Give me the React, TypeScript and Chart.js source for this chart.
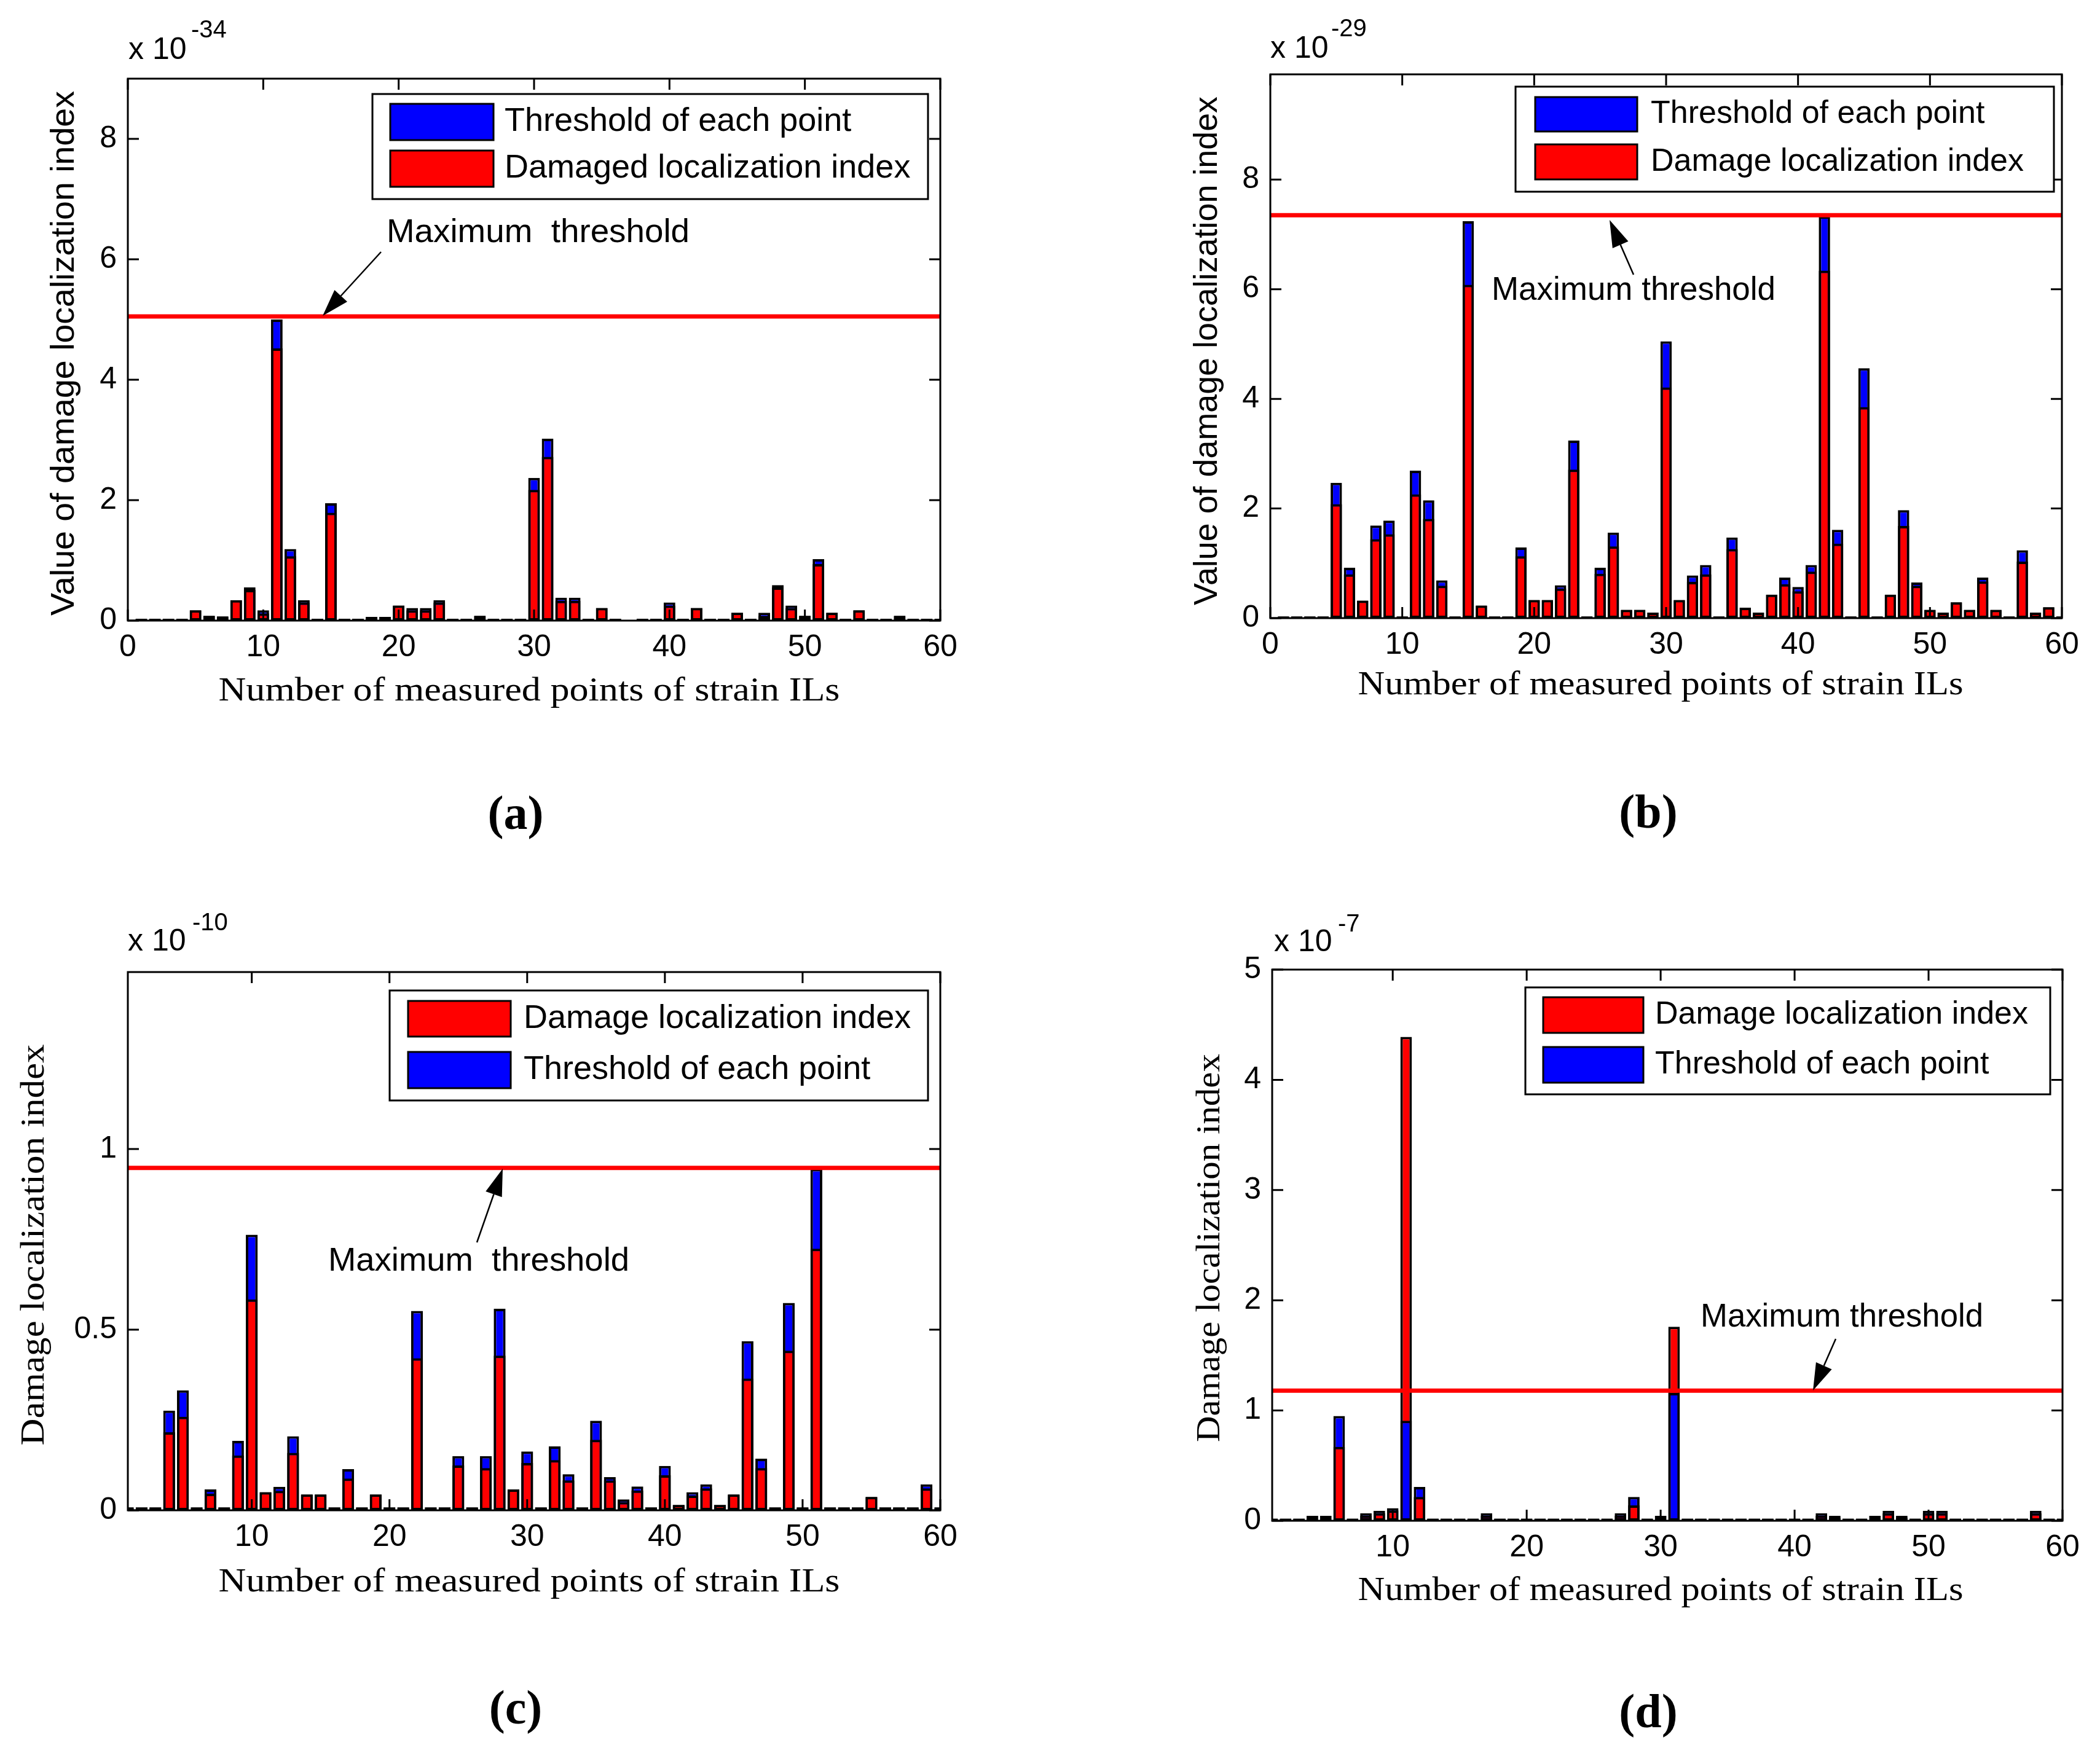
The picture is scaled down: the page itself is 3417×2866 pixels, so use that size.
import { useEffect, useRef } from "react"
import { Chart, registerables } from "chart.js"
import type { ChartConfiguration, Plugin } from "chart.js"

Chart.register(...registerables)

const RED = "#ff0000"
const BLUE = "#0000ff"
const SANS = '"Liberation Sans", Arial, sans-serif'
const SERIF = '"Liberation Serif", "Times New Roman", serif'

// measured points of strain ILs
const points = [
  1, 2, 3, 4, 5, 6, 7, 8, 9, 10, 11, 12, 13, 14, 15, 16, 17, 18, 19, 20,
  21, 22, 23, 24, 25, 26, 27, 28, 29, 30, 31, 32, 33, 34, 35, 36, 37, 38, 39, 40,
  41, 42, 43, 44, 45, 46, 47, 48, 49, 50, 51, 52, 53, 54, 55, 56, 57, 58, 59, 60,
]

const xTicksFrom0 = [0, 10, 20, 30, 40, 50, 60]
const xTicksFrom10 = [10, 20, 30, 40, 50, 60]
const yTicksA = [0, 2, 4, 6, 8]
const yTicksB = [0, 2, 4, 6, 8]
const yTicksC = [0, 0.5, 1]
const yTicksD = [0, 1, 2, 3, 4, 5]

// (a) x 10^-34
const thresholdA = [
  0.03, 0.03, 0.03, 0.03, 0.17, 0.08, 0.07, 0.34, 0.55, 0.17,
  5.0, 1.19, 0.34, 0.03, 1.95, 0.03, 0.03, 0.06, 0.06, 0.25,
  0.21, 0.21, 0.34, 0.03, 0.03, 0.08, 0.03, 0.03, 0.03, 2.37,
  3.02, 0.38, 0.38, 0.03, 0.21, 0.03, 0.01, 0.03, 0.03, 0.3,
  0.03, 0.21, 0.03, 0.03, 0.13, 0.03, 0.13, 0.59, 0.25, 0.08,
  1.02, 0.13, 0.03, 0.17, 0.03, 0.03, 0.08, 0.03, 0.03, 0.03,
]
const damageA = [
  0.03, 0.03, 0.03, 0.03, 0.17, 0.08, 0.07, 0.34, 0.51, 0.12,
  4.52, 1.07, 0.3, 0.03, 1.79, 0.03, 0.03, 0.06, 0.06, 0.25,
  0.17, 0.17, 0.3, 0.03, 0.03, 0.08, 0.03, 0.03, 0.03, 2.17,
  2.72, 0.33, 0.33, 0.03, 0.21, 0.03, 0.01, 0.03, 0.03, 0.25,
  0.03, 0.21, 0.03, 0.03, 0.13, 0.03, 0.08, 0.55, 0.21, 0.08,
  0.94, 0.13, 0.03, 0.17, 0.03, 0.03, 0.08, 0.03, 0.03, 0.03,
]
const maxThresholdA = 5.05

// (b) x 10^-29
const thresholdB = [
  0.03, 0.03, 0.03, 0.03, 2.47, 0.92, 0.32, 1.69, 1.78, 0.03,
  2.69, 2.15, 0.69, 0.03, 7.24, 0.23, 0.03, 0.03, 1.29, 0.33,
  0.33, 0.6, 3.24, 0.03, 0.92, 1.56, 0.15, 0.15, 0.1, 5.05,
  0.33, 0.78, 0.97, 0.03, 1.47, 0.19, 0.1, 0.43, 0.74, 0.57,
  0.97, 7.33, 1.61, 0.03, 4.56, 0.03, 0.43, 1.97, 0.65, 0.15,
  0.1, 0.29, 0.15, 0.74, 0.15, 0.03, 1.24, 0.1, 0.2, 0.03,
]
const damageB = [
  0.03, 0.03, 0.03, 0.03, 2.08, 0.8, 0.32, 1.44, 1.53, 0.03,
  2.26, 1.81, 0.59, 0.03, 6.08, 0.23, 0.03, 0.03, 1.13, 0.33,
  0.33, 0.54, 2.71, 0.03, 0.81, 1.31, 0.15, 0.15, 0.1, 4.21,
  0.33, 0.66, 0.8, 0.03, 1.26, 0.19, 0.1, 0.43, 0.62, 0.49,
  0.85, 6.34, 1.36, 0.03, 3.85, 0.03, 0.43, 1.68, 0.59, 0.15,
  0.1, 0.29, 0.15, 0.67, 0.15, 0.03, 1.03, 0.1, 0.2, 0.03,
]
const maxThresholdB = 7.35

// (c) x 10^-10
const damageC = [
  0.008, 0.008, 0.008, 0.216, 0.259, 0.008, 0.046, 0.008, 0.152, 0.584,
  0.05, 0.054, 0.159, 0.044, 0.044, 0.008, 0.088, 0.008, 0.044, 0.008,
  0.008, 0.421, 0.008, 0.008, 0.124, 0.008, 0.117, 0.428, 0.058, 0.131,
  0.008, 0.139, 0.083, 0.008, 0.195, 0.083, 0.023, 0.055, 0.008, 0.097,
  0.015, 0.041, 0.061, 0.015, 0.044, 0.365, 0.117, 0.008, 0.442, 0.008,
  0.724, 0.008, 0.008, 0.008, 0.037, 0.008, 0.008, 0.008, 0.061, 0.008,
]
const thresholdC = [
  0.008, 0.008, 0.008, 0.276, 0.332, 0.008, 0.058, 0.008, 0.192, 0.763,
  0.05, 0.065, 0.205, 0.044, 0.044, 0.008, 0.114, 0.008, 0.044, 0.008,
  0.008, 0.552, 0.008, 0.008, 0.15, 0.008, 0.15, 0.558, 0.058, 0.163,
  0.008, 0.177, 0.1, 0.008, 0.248, 0.092, 0.03, 0.066, 0.008, 0.123,
  0.015, 0.05, 0.072, 0.015, 0.044, 0.468, 0.143, 0.008, 0.574, 0.008,
  0.945, 0.008, 0.008, 0.008, 0.037, 0.008, 0.008, 0.008, 0.072, 0.008,
]
const maxThresholdC = 0.948

// (d) x 10^-7
const damageD = [
  0.02, 0.02, 0.02, 0.045, 0.045, 0.67, 0.02, 0.046, 0.068, 0.093,
  4.39, 0.216, 0.02, 0.02, 0.02, 0.02, 0.046, 0.02, 0.02, 0.02,
  0.02, 0.02, 0.02, 0.02, 0.02, 0.02, 0.046, 0.14, 0.02, 0.045,
  1.76, 0.02, 0.02, 0.02, 0.02, 0.02, 0.02, 0.02, 0.02, 0.02,
  0.02, 0.046, 0.03, 0.02, 0.02, 0.045, 0.068, 0.03, 0.02, 0.068,
  0.068, 0.02, 0.02, 0.02, 0.02, 0.02, 0.02, 0.068, 0.02, 0.02,
]
const thresholdD = [
  0.02, 0.02, 0.02, 0.045, 0.045, 0.95, 0.02, 0.068, 0.091, 0.114,
  0.907, 0.307, 0.02, 0.02, 0.02, 0.02, 0.068, 0.02, 0.02, 0.02,
  0.02, 0.02, 0.02, 0.02, 0.02, 0.02, 0.068, 0.216, 0.02, 0.045,
  1.16, 0.02, 0.02, 0.02, 0.02, 0.02, 0.02, 0.02, 0.02, 0.02,
  0.02, 0.068, 0.045, 0.02, 0.02, 0.045, 0.091, 0.045, 0.02, 0.091,
  0.091, 0.02, 0.02, 0.02, 0.02, 0.02, 0.02, 0.091, 0.02, 0.02,
]
const maxThresholdD = 1.18

const Y_W = 150
const X_H = 100
const TICK = 18

type Panel = {
  tag: string
  ox: number
  oy: number
  w: number
  h: number
  plot: [number, number, number, number]
  xMin: number
  xMax: number
  yMax: number
  xTicks: number[]
  yTicks: number[]
  damage: number[]
  threshold: number[]
  maxThreshold: number
  damageLabel: string
  thresholdLabel: string
  thresholdFirst: boolean
  legendBox: [number, number, number, number]
  swatchX: [number, number]
  rows: [number, number][]
  textX: number
  legendFont: number
  exponent: string
  expX: number
  expY: number
  supX: number
  supY: number
  note: string
  noteX: number
  noteY: number
  noteW: number
  arrow: [number, number, number, number]
  yTitle: string
  yTitleFamily: string
  yTitleX: number
  yTitleY: number
  yTitleLen: number
  xTitleX: number
  xTitleY: number
  xTitleLen: number
  tagX: number
  tagY: number
}

const X_TITLE = "Number of measured points of strain ILs"

const panels: Panel[] = [
  {
    tag: "(a)", ox: 0, oy: 0, w: 1708, h: 1433,
    plot: [208, 128, 1530, 1010],
    xMin: 0, xMax: 60, yMax: 9, xTicks: xTicksFrom0, yTicks: yTicksA,
    damage: damageA, threshold: thresholdA, maxThreshold: maxThresholdA,
    damageLabel: "Damaged localization index", thresholdLabel: "Threshold of each point", thresholdFirst: true,
    legendBox: [606, 153, 1510, 324], swatchX: [635, 803], rows: [[169, 228], [245, 304]], textX: 821, legendFont: 54,
    exponent: "-34", expX: 209, expY: 82, supX: 311, supY: 50,
    note: "Maximum  threshold", noteX: 629, noteY: 379, noteW: 493, arrow: [620, 410, 525, 514],
    yTitle: "Value of damage localization index", yTitleFamily: SANS, yTitleX: 105, yTitleY: 575, yTitleLen: 854,
    xTitleX: 861, xTitleY: 1126, xTitleLen: 1011,
    tagX: 839, tagY: 1329,
  },
  {
    tag: "(b)", ox: 1708, oy: 0, w: 1709, h: 1433,
    plot: [2067, 121, 3355, 1006],
    xMin: 0, xMax: 60, yMax: 9.92, xTicks: xTicksFrom0, yTicks: yTicksB,
    damage: damageB, threshold: thresholdB, maxThreshold: maxThresholdB,
    damageLabel: "Damage localization index", thresholdLabel: "Threshold of each point", thresholdFirst: true,
    legendBox: [2466, 141, 3342, 312], swatchX: [2498, 2664], rows: [[158, 214], [235, 292]], textX: 2686, legendFont: 52,
    exponent: "-29", expX: 2067, expY: 80, supX: 2166, supY: 48,
    note: "Maximum threshold", noteX: 2427, noteY: 473, noteW: 462, arrow: [2658, 447, 2619, 358],
    yTitle: "Value of damage localization index", yTitleFamily: SANS, yTitleX: 1965, yTitleY: 571, yTitleLen: 828,
    xTitleX: 2702, xTitleY: 1116, xTitleLen: 985,
    tagX: 2682, tagY: 1327,
  },
  {
    tag: "(c)", ox: 0, oy: 1433, w: 1708, h: 1433,
    plot: [208, 1582, 1530, 2458],
    xMin: 1, xMax: 60, yMax: 1.49, xTicks: xTicksFrom10, yTicks: yTicksC,
    damage: damageC, threshold: thresholdC, maxThreshold: maxThresholdC,
    damageLabel: "Damage localization index", thresholdLabel: "Threshold of each point", thresholdFirst: false,
    legendBox: [634, 1612, 1510, 1791], swatchX: [664, 831], rows: [[1629, 1687], [1712, 1771]], textX: 852, legendFont: 54,
    exponent: "-10", expX: 208, expY: 1533, supX: 313, supY: 1503,
    note: "Maximum  threshold", noteX: 534, noteY: 2053, noteW: 490, arrow: [776, 2022, 818, 1902],
    yTitle: "Damage localization index", yTitleFamily: SERIF, yTitleX: 57, yTitleY: 2026, yTitleLen: 653,
    xTitleX: 861, xTitleY: 2576, xTitleLen: 1011,
    tagX: 839, tagY: 2785,
  },
  {
    tag: "(d)", ox: 1708, oy: 1433, w: 1709, h: 1433,
    plot: [2070, 1578, 3356, 2475],
    xMin: 1, xMax: 60, yMax: 5, xTicks: xTicksFrom10, yTicks: yTicksD,
    damage: damageD, threshold: thresholdD, maxThreshold: maxThresholdD,
    damageLabel: "Damage localization index", thresholdLabel: "Threshold of each point", thresholdFirst: false,
    legendBox: [2482, 1607, 3336, 1781], swatchX: [2511, 2674], rows: [[1623, 1681], [1704, 1762]], textX: 2693, legendFont: 52,
    exponent: "-7", expX: 2073, expY: 1534, supX: 2177, supY: 1505,
    note: "Maximum threshold", noteX: 2767, noteY: 2144, noteW: 460, arrow: [2987, 2179, 2950, 2263],
    yTitle: "Damage localization index", yTitleFamily: SERIF, yTitleX: 1970, yTitleY: 2031, yTitleLen: 632,
    xTitleX: 2702, xTitleY: 2590, xTitleLen: 985,
    tagX: 2682, tagY: 2791,
  },
]

function drawText(
  ctx: CanvasRenderingContext2D,
  s: string,
  x: number,
  y: number,
  font: string,
  align: CanvasTextAlign,
  fit?: number,
  rotate = false,
) {
  ctx.save()
  ctx.font = font
  ctx.fillStyle = "#000"
  ctx.textAlign = align
  ctx.textBaseline = "middle"
  ctx.translate(x, y)
  if (rotate) ctx.rotate(-Math.PI / 2)
  if (fit) ctx.scale(fit / ctx.measureText(s).width, 1)
  ctx.fillText(s, 0, 0)
  ctx.restore()
}

function drawArrow(ctx: CanvasRenderingContext2D, x1: number, y1: number, x2: number, y2: number) {
  const ang = Math.atan2(y2 - y1, x2 - x1)
  const len = 44
  const half = 14
  const bx = x2 - Math.cos(ang) * len
  const by = y2 - Math.sin(ang) * len
  ctx.save()
  ctx.strokeStyle = "#000"
  ctx.fillStyle = "#000"
  ctx.lineWidth = 2.5
  ctx.beginPath()
  ctx.moveTo(x1, y1)
  ctx.lineTo(bx, by)
  ctx.stroke()
  ctx.beginPath()
  ctx.moveTo(x2, y2)
  ctx.lineTo(bx + Math.sin(ang) * half, by - Math.cos(ang) * half)
  ctx.lineTo(bx - Math.sin(ang) * half, by + Math.cos(ang) * half)
  ctx.closePath()
  ctx.fill()
  ctx.restore()
}

// MATLAB-style frame, inner ticks, legend and annotations
function framePlugin(p: Panel): Plugin<"bar"> {
  return {
    id: "matlabFrame",
    afterDatasetsDraw(chart) {
      const { ctx, chartArea: a, scales } = chart
      const xs = scales.x
      const ys = scales.y
      ctx.save()
      ctx.strokeStyle = "#000"
      ctx.lineWidth = 3
      ctx.strokeRect(a.left, a.top, a.right - a.left, a.bottom - a.top)
      ctx.beginPath()
      for (const v of p.xTicks) {
        const px = xs.getPixelForValue(v)
        ctx.moveTo(px, a.bottom)
        ctx.lineTo(px, a.bottom - TICK)
        ctx.moveTo(px, a.top)
        ctx.lineTo(px, a.top + TICK)
      }
      for (const v of p.yTicks) {
        const py = ys.getPixelForValue(v)
        ctx.moveTo(a.left, py)
        ctx.lineTo(a.left + TICK, py)
        ctx.moveTo(a.right, py)
        ctx.lineTo(a.right - TICK, py)
      }
      ctx.stroke()
      ctx.restore()
    },
    afterDraw(chart) {
      const ctx = chart.ctx
      const X = (v: number) => v - p.ox
      const Y = (v: number) => v - p.oy

      // legend
      const [lx1, ly1, lx2, ly2] = p.legendBox
      ctx.save()
      ctx.fillStyle = "#fff"
      ctx.fillRect(X(lx1), Y(ly1), lx2 - lx1, ly2 - ly1)
      ctx.strokeStyle = "#000"
      ctx.lineWidth = 3
      ctx.strokeRect(X(lx1), Y(ly1), lx2 - lx1, ly2 - ly1)
      const entries = p.thresholdFirst
        ? [{ label: p.thresholdLabel, color: BLUE }, { label: p.damageLabel, color: RED }]
        : [{ label: p.damageLabel, color: RED }, { label: p.thresholdLabel, color: BLUE }]
      entries.forEach((e, i) => {
        const [r1, r2] = p.rows[i]
        ctx.fillStyle = e.color
        ctx.fillRect(X(p.swatchX[0]), Y(r1), p.swatchX[1] - p.swatchX[0], r2 - r1)
        ctx.strokeRect(X(p.swatchX[0]), Y(r1), p.swatchX[1] - p.swatchX[0], r2 - r1)
        drawText(ctx, e.label, X(p.textX), Y((r1 + r2) / 2), `${p.legendFont}px ${SANS}`, "left")
      })
      ctx.restore()

      // exponent
      drawText(ctx, "x 10", X(p.expX), Y(p.expY), `50px ${SANS}`, "left")
      drawText(ctx, p.exponent, X(p.supX), Y(p.supY), `40px ${SANS}`, "left")

      // maximum threshold note
      drawText(ctx, p.note, X(p.noteX), Y(p.noteY), `54px ${SANS}`, "left", p.noteW)
      drawArrow(ctx, X(p.arrow[0]), Y(p.arrow[1]), X(p.arrow[2]), Y(p.arrow[3]))

      // axis titles
      drawText(ctx, p.yTitle, X(p.yTitleX), Y(p.yTitleY), `54px ${p.yTitleFamily}`, "center", p.yTitleLen, true)
      drawText(ctx, X_TITLE, X(p.xTitleX), Y(p.xTitleY), `54px ${SERIF}`, "center", p.xTitleLen)

      // panel tag
      drawText(ctx, p.tag, X(p.tagX), Y(p.tagY), `bold 78px ${SERIF}`, "center")
    },
  }
}

function buildConfig(p: Panel): ChartConfiguration<"bar"> {
  // taller bar drawn behind, shorter one in front (ties show red)
  const back = points.map((x, i) => ({ x, y: Math.max(p.damage[i], p.threshold[i]) }))
  const backColors = points.map((_, i) => (p.threshold[i] > p.damage[i] ? BLUE : RED))
  const front = points.map((x, i) => ({ x, y: Math.min(p.damage[i], p.threshold[i]) }))
  const frontColors = points.map((_, i) => (p.threshold[i] >= p.damage[i] ? RED : BLUE))
  const barStyle = {
    borderColor: "#000",
    borderWidth: 4,
    borderSkipped: false as const,
    grouped: false,
    categoryPercentage: 0.86,
    barPercentage: 1,
  }

  const [pl, pt, pr, pb] = p.plot
  const tickFont = { family: SANS, size: 50 }

  return {
    type: "bar",
    data: {
      datasets: [
        {
          type: "line",
          label: "Maximum threshold",
          data: [
            { x: p.xMin, y: p.maxThreshold },
            { x: p.xMax, y: p.maxThreshold },
          ],
          borderColor: RED,
          borderWidth: 7,
          pointRadius: 0,
          tension: 0,
          order: 0,
        } as any,
        { label: "front", data: front as any, backgroundColor: frontColors, ...barStyle, order: 1 },
        { label: "back", data: back as any, backgroundColor: backColors, ...barStyle, order: 2 },
      ],
    },
    options: {
      responsive: false,
      animation: false,
      events: [],
      layout: {
        padding: {
          left: pl - p.ox - Y_W,
          top: pt - p.oy,
          right: p.ox + p.w - pr,
          bottom: p.oy + p.h - pb - X_H,
        },
      },
      scales: {
        x: {
          type: "linear",
          min: p.xMin,
          max: p.xMax,
          bounds: "data",
          offset: false,
          afterBuildTicks: (s) => {
            s.ticks = p.xTicks.map((value) => ({ value }))
          },
          afterFit: (s) => {
            s.height = X_H
          },
          grid: { display: false, drawTicks: false, offset: false },
          border: { display: false },
          ticks: {
            color: "#000",
            font: tickFont,
            padding: 14,
            autoSkip: false,
            maxRotation: 0,
            callback: (v) => String(v),
          },
        },
        y: {
          type: "linear",
          min: 0,
          max: p.yMax,
          bounds: "data",
          afterBuildTicks: (s) => {
            s.ticks = p.yTicks.map((value) => ({ value }))
          },
          afterFit: (s) => {
            s.width = Y_W
          },
          grid: { display: false, drawTicks: false },
          border: { display: false },
          ticks: {
            color: "#000",
            font: tickFont,
            padding: 18,
            autoSkip: false,
            callback: (v) => String(v),
          },
        },
      },
      plugins: {
        legend: { display: false },
        tooltip: { enabled: false },
      },
    },
    plugins: [framePlugin(p)],
  }
}

function PanelChart({ p }: { p: Panel }) {
  const canvasRef = useRef<HTMLCanvasElement>(null)
  const chartRef = useRef<Chart<"bar"> | null>(null)

  useEffect(() => {
    if (!canvasRef.current) return
    const ctx = canvasRef.current.getContext("2d")
    if (!ctx) return
    if (chartRef.current) chartRef.current.destroy()
    chartRef.current = new Chart(ctx, buildConfig(p))
    return () => {
      if (chartRef.current) {
        chartRef.current.destroy()
        chartRef.current = null
      }
    }
  }, [p])

  return (
    <canvas
      ref={canvasRef}
      width={p.w}
      height={p.h}
      style={{ position: "absolute", left: p.ox, top: p.oy, width: p.w, height: p.h, display: "block" }}
    />
  )
}

export default function App() {
  return (
    <div style={{ position: "absolute", left: 0, top: 0, width: 3417, height: 2866, background: "#fff" }}>
      {panels.map((p) => (
        <PanelChart key={p.tag} p={p} />
      ))}
    </div>
  )
}
